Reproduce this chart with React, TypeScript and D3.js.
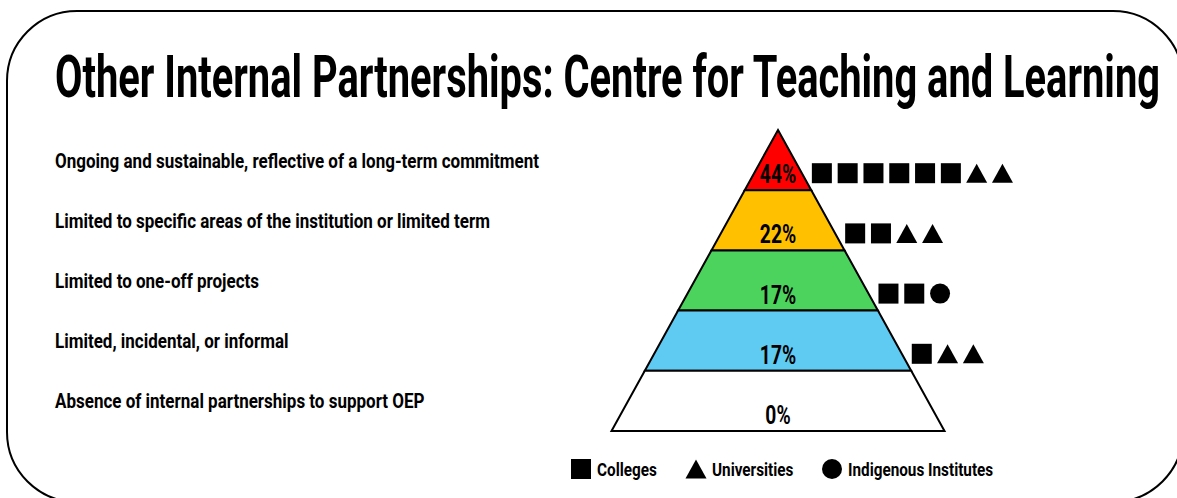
import { useLayoutEffect, useRef, useState } from "react";
import * as d3 from "d3";

// pyramid levels, top to bottom
const levels = [
  "Ongoing and sustainable, reflective of a long-term commitment",
  "Limited to specific areas of the institution or limited term",
  "Limited to one-off projects",
  "Limited, incidental, or informal",
  "Absence of internal partnerships to support OEP",
];
const percents = [44, 22, 17, 17, 0];
const colleges = [6, 2, 2, 1, 0];
const universities = [2, 2, 0, 2, 0];
const indigenous = [0, 0, 1, 0, 0];
const bandColors = ["#ff0000", "#ffc000", "#4bd35d", "#5fcbf2", "#ffffff"];

const title = "Other Internal Partnerships: Centre for Teaching and Learning";
const legendItems = [
  { shape: "square", label: "Colleges" },
  { shape: "triangle", label: "Universities" },
  { shape: "circle", label: "Indigenous Institutes" },
];

const W = 1177;
const H = 498;
const FONT = "Roboto, 'Open Sans', sans-serif";

// pyramid geometry
const apexX = 778;
const apexY = 130;
const baseY = 431;
const halfBase = 166.5;

const yBand = d3.scaleLinear().domain([0, levels.length]).range([apexY, baseY]);
const halfW = d3.scaleLinear().domain([apexY, baseY]).range([0, halfBase]);

const markerSize = 20;
const markerPitch = 25.8;

function Marker({ shape, cx, cy }: { shape: string; cx: number; cy: number }) {
  const s = markerSize / 2;
  if (shape === "square") {
    return <rect x={cx - s} y={cy - s} width={markerSize} height={markerSize} fill="#000" />;
  }
  if (shape === "triangle") {
    const p = d3.path();
    p.moveTo(cx, cy - 9.5);
    p.lineTo(cx + 10.5, cy + 9.5);
    p.lineTo(cx - 10.5, cy + 9.5);
    p.closePath();
    return <path d={p.toString()} fill="#000" />;
  }
  return <circle cx={cx} cy={cy} r={s} fill="#000" />;
}

export default function App() {
  const titleRef = useRef<SVGTextElement>(null);
  const [titleScale, setTitleScale] = useState(0.6);

  // squeeze the title so it spans the same width as in the original
  useLayoutEffect(() => {
    if (!titleRef.current) return;
    const len = titleRef.current.getComputedTextLength();
    if (len > 0) setTitleScale(1105 / len);
  }, []);

  const bands = levels.map((lab, i) => {
    const y0 = yBand(i);
    const y1 = yBand(i + 1);
    const pts: [number, number][] = [
      [apexX - halfW(y0), y0],
      [apexX + halfW(y0), y0],
      [apexX + halfW(y1), y1],
      [apexX - halfW(y1), y1],
    ];
    const markers: string[] = [
      ...d3.range(colleges[i]).map(() => "square"),
      ...d3.range(universities[i]).map(() => "triangle"),
      ...d3.range(indigenous[i]).map(() => "circle"),
    ];
    const my = y1 - 17;
    const startX = apexX + halfW(my - markerSize / 2) + 15.5 + markerSize / 2;
    return { lab, i, y0, y1, pts, markers, my, startX };
  });

  const line = d3.line();
  const border = d3.path();
  const bx0 = 7, by0 = 11, bx1 = 1183, by1 = 502, r = 70;
  border.moveTo(bx0 + r, by0);
  border.lineTo(bx1 - r, by0);
  border.arcTo(bx1, by0, bx1, by0 + r, r);
  border.lineTo(bx1, by1 - r);
  border.arcTo(bx1, by1, bx1 - r, by1, r);
  border.lineTo(bx0 + r, by1);
  border.arcTo(bx0, by1, bx0, by1 - r, r);
  border.lineTo(bx0, by0 + r);
  border.arcTo(bx0, by0, bx0 + r, by0, r);
  border.closePath();

  const legendX = [581, 696, 832];

  return (
    <svg
      width={W}
      height={H}
      style={{ position: "absolute", left: 0, top: 0, background: "#fff" }}
      fontFamily={FONT}
    >
      <path d={border.toString()} fill="none" stroke="#000" strokeWidth={2} />

      <text
        ref={titleRef}
        transform={`translate(55,97) scale(${titleScale},1.1)`}
        fontSize={54}
        fontWeight={700}
      >
        {title}
      </text>

      {bands.map((b) => (
        <text
          key={"lab" + b.i}
          transform={`translate(55,${(b.y0 + b.y1) / 2 + 7.5}) scale(0.81,1)`}
          fontSize={21}
          fontWeight={700}
        >
          {b.lab}
        </text>
      ))}

      {bands.map((b) => (
        <g key={"band" + b.i}>
          <path
            d={line(b.pts) + "Z"}
            fill={bandColors[b.i]}
            stroke="#000"
            strokeWidth={2}
            strokeLinejoin="miter"
          />
          <text
            transform={`translate(${apexX},${b.y1 - 7}) scale(0.74,1)`}
            textAnchor="middle"
            fontSize={26}
            fontWeight={700}
          >
            {percents[b.i]}%
          </text>
          {b.markers.map((m, k) => (
            <Marker key={k} shape={m} cx={b.startX + k * markerPitch} cy={b.my} />
          ))}
        </g>
      ))}

      {legendItems.map((it, k) => (
        <g key={"leg" + k}>
          <Marker shape={it.shape} cx={legendX[k]} cy={469} />
          <text
            transform={`translate(${legendX[k] + 16},${475.5}) scale(0.85,1)`}
            fontSize={18}
            fontWeight={700}
          >
            {it.label}
          </text>
        </g>
      ))}
    </svg>
  );
}
